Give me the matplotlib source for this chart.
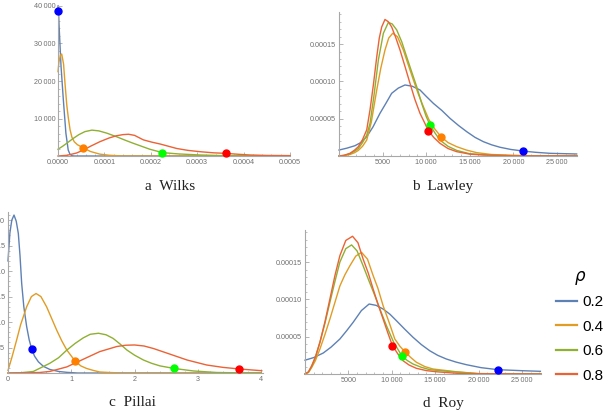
import matplotlib
matplotlib.use("Agg")
import matplotlib.pyplot as plt
from matplotlib.ticker import FixedLocator, MultipleLocator
from matplotlib.lines import Line2D

rho_labels = ["0.2", "0.4", "0.6", "0.8"]
line_colors = ["#5E81B5", "#E19C24", "#8FB032", "#EB6235"]
dot_colors = ["#0000FF", "#FF8000", "#00FF00", "#FF0000"]
panel_titles = ["a  Wilks", "b  Lawley", "c  Pillai", "d  Roy"]

# ---------------- a Wilks ----------------
wilks_x_02 = [0, 1e-6, 3e-6, 6.5e-6, 1.15e-5, 1.7e-5, 2.2e-5, 2.6e-5, 3.1e-5, 3.6e-5, 5e-4]
wilks_y_02 = [40000, 38700, 33000, 24000, 15000, 6100, 1600, 400, 50, 0, 0]
wilks_x_04 = [0, 2e-6, 5e-6, 8e-6, 1.2e-5, 1.5e-5, 1.9e-5, 2.2e-5, 2.6e-5, 3e-5, 3.5e-5, 4.2e-5,
              5.4e-5, 7e-5, 9e-5, 1.1e-4, 1.4e-4, 5e-4]
wilks_y_04 = [22500, 25000, 26800, 27200, 24500, 19500, 13500, 10400, 7000, 5000, 3800, 3000,
              2200, 1200, 500, 200, 0, 0]
wilks_x_06 = [0, 1e-5, 2e-5, 3.3e-5, 4.5e-5, 5.8e-5, 7.3e-5, 8.8e-5, 1.05e-4, 1.26e-4, 1.45e-4,
              1.62e-4, 1.8e-4, 1.98e-4, 2.25e-4, 2.6e-4, 3.06e-4, 3.5e-4, 4e-4, 5e-4]
wilks_y_06 = [1800, 2600, 3500, 4700, 5700, 6500, 6900, 6700, 6100, 5150, 4200,
              3400, 2600, 1800, 900, 550, 270, 120, 40, 0]
wilks_x_08 = [0, 2e-5, 4e-5, 5.5e-5, 7e-5, 9e-5, 1.1e-4, 1.26e-4, 1.4e-4, 1.52e-4, 1.65e-4,
              1.84e-4, 2.02e-4, 2.2e-4, 2.38e-4, 2.56e-4, 2.8e-4, 3.06e-4, 3.35e-4, 3.62e-4,
              3.9e-4, 4.14e-4, 4.5e-4, 5e-4]
wilks_y_08 = [0, 200, 800, 1600, 2600, 3800, 4800, 5400, 5700, 5800, 5500,
              4300, 3700, 3200, 2600, 2000, 1500, 1150, 850, 700,
              450, 270, 150, 100]
wilks_dot_x = [1e-6, 5.4e-5, 2.25e-4, 3.62e-4]
wilks_dot_y = [38700, 2200, 900, 700]
wilks_xticks = [0.0, 0.0001, 0.0002, 0.0003, 0.0004, 0.0005]
wilks_xticklabels = ["0.0000", "0.0001", "0.0002", "0.0003", "0.0004", "0.0005"]
wilks_yticks = [10000, 20000, 30000, 40000]
wilks_yticklabels = ["10\u2009000", "20\u2009000", "30\u2009000", "40\u2009000"]

# ---------------- b Lawley (y in units of 1e-5) ----------------
lawley_x_02 = [0, 900, 1830, 2500, 3180, 3900, 4700, 5400, 6040, 6800, 7570, 8400, 9290, 10000,
               10820, 11800, 12730, 13700, 14650, 15600, 16560, 17500, 18470, 19700, 21070,
               22500, 24200, 27260]
lawley_y_02 = [0.8, 1.05, 1.38, 1.8, 2.59, 3.9, 5.72, 7.1, 8.4, 9.1, 9.52, 9.35, 8.85, 8.0,
               7.06, 6.1, 5.05, 4.1, 3.26, 2.5, 1.92, 1.5, 1.17, 0.88, 0.67,
               0.5, 0.36, 0.27]
lawley_x_04 = [0, 600, 1260, 1800, 2220, 2700, 3180, 3700, 4330, 4800, 5275, 5700, 6160, 6700,
               7380, 7950, 8530, 9100, 9680, 10300, 11000, 11700, 12500, 13500, 14600, 15790,
               17500, 19230, 22000, 27300]
lawley_y_04 = [0, 0.05, 0.2, 0.45, 0.75, 1.3, 2.14, 4.5, 8.85, 11.8, 14.2, 15.8, 16.45, 16.0,
               14.2, 12.2, 10.2, 8.3, 6.61, 4.9, 3.6, 2.59, 1.8, 1.25, 0.8, 0.45,
               0.2, 0.13, 0.03, 0]
lawley_x_06 = [0, 600, 1260, 1800, 2220, 2700, 3180, 3560, 4000, 4520, 5090, 5660, 6100, 6620,
               7200, 7760, 8330, 8910, 9500, 10000, 10440, 11000, 11580, 12500, 13500, 15000,
               16560, 20000, 27300]
lawley_y_06 = [0, 0.08, 0.3, 0.65, 1.0, 1.8, 2.8, 4.38, 8.0, 12.9, 16.45, 17.9, 17.7, 16.9,
               15.3, 13.3, 11.3, 9.3, 7.0, 5.3, 4.15, 3.1, 2.14, 1.3, 0.75, 0.3,
               0.18, 0.03, 0]
lawley_x_08 = [0, 600, 1260, 1800, 2220, 2700, 3180, 3560, 3950, 4330, 4620, 4900, 5275, 5650,
               6040, 6500, 7000, 7570, 8140, 8700, 9290, 9800, 10250, 10900, 11580, 12500,
               13500, 15000, 16560, 20000, 27300]
lawley_y_08 = [0, 0.1, 0.36, 0.8, 1.25, 2.2, 3.5, 6.2, 9.6, 13.3, 15.8, 17.3, 18.3, 18.0,
               17.3, 15.9, 14.2, 12.0, 9.75, 7.6, 5.72, 4.5, 3.39, 2.45, 1.7, 1.0,
               0.58, 0.25, 0.13, 0.02, 0]
lawley_dot_x = [21070, 11700, 10440, 10250]
lawley_dot_y = [0.67, 2.59, 4.15, 3.39]
lawley_xticks = [5000, 10000, 15000, 20000, 25000]
lawley_xticklabels = ["5000", "10\u2009000", "15\u2009000", "20\u2009000", "25\u2009000"]
lawley_yticks = [5, 10, 15]
lawley_yticklabels = ["0.00005", "0.00010", "0.00015"]

# ---------------- c Pillai ----------------
pillai_x_02 = [0, 0.03, 0.06, 0.095, 0.13, 0.163, 0.19, 0.216, 0.25, 0.295, 0.335, 0.374, 0.42,
               0.48, 0.56, 0.66, 0.8, 0.93, 1.1, 4.0]
pillai_y_02 = [2.2, 2.75, 3.0, 3.1, 2.98, 2.74, 2.3, 1.76, 1.3, 0.91, 0.65, 0.47, 0.33,
               0.22, 0.13, 0.07, 0.03, 0.013, 0, 0]
pillai_x_04 = [0, 0.06, 0.137, 0.2, 0.295, 0.37, 0.443, 0.52, 0.61, 0.69, 0.77, 0.85, 0.93,
               1.06, 1.15, 1.24, 1.35, 1.45, 1.6, 1.8, 4.0]
pillai_y_04 = [0.05, 0.3, 0.65, 0.95, 1.3, 1.5, 1.56, 1.5, 1.3, 1.07, 0.84, 0.63, 0.45,
               0.235, 0.14, 0.09, 0.05, 0.02, 0.01, 0, 0]
pillai_x_06 = [0, 0.2, 0.4, 0.66, 0.8, 0.93, 1.06, 1.19, 1.3, 1.43, 1.55, 1.66, 1.77, 1.88, 2.0,
               2.14, 2.27, 2.4, 2.62, 2.93, 3.3, 3.7, 4.0]
pillai_y_06 = [0, 0.005, 0.03, 0.19, 0.3, 0.45, 0.58, 0.69, 0.76, 0.78, 0.75, 0.68, 0.57, 0.45,
               0.35, 0.255, 0.19, 0.14, 0.09, 0.04, 0.01, 0.003, 0.0]
pillai_x_08 = [0, 0.3, 0.5, 0.66, 0.93, 1.19, 1.45, 1.72, 1.86, 2.0, 2.15, 2.3, 2.56, 2.83, 3.14,
               3.4, 3.65, 3.85, 4.01]
pillai_y_08 = [0, 0.003, 0.01, 0.03, 0.12, 0.27, 0.42, 0.52, 0.545, 0.55, 0.53, 0.48, 0.37,
               0.255, 0.157, 0.11, 0.08, 0.06, 0.045]
pillai_dot_x = [0.374, 1.06, 2.62, 3.65]
pillai_dot_y = [0.47, 0.235, 0.09, 0.08]
pillai_xticks = [0, 1, 2, 3, 4]
pillai_xticklabels = ["0", "1", "2", "3", "4"]
pillai_yticks = [0.5, 1.0, 1.5, 2.0, 2.5, 3.0]
pillai_yticklabels = ["0.5", "1.0", "1.5", "2.0", "2.5", "3.0"]

# ---------------- d Roy (y in units of 1e-5) ----------------
roy_x_02 = [0, 1000, 2100, 3000, 4020, 4800, 5550, 6500, 7390, 8200, 9000, 9800, 10540, 11500,
            12450, 13400, 14370, 15300, 16290, 17400, 18590, 20300, 22220, 25100, 27130]
roy_y_02 = [1.85, 2.2, 2.81, 3.6, 4.69, 5.8, 6.93, 8.5, 9.38, 9.2, 8.71, 8.0, 7.14, 6.0,
            4.92, 3.95, 3.12, 2.5, 2.01, 1.6, 1.25, 0.85, 0.58, 0.44, 0.36]
roy_x_04 = [0, 400, 770, 1200, 1720, 2300, 2870, 3450, 4020, 4600, 5170, 5850, 6520, 7200, 7850,
            8400, 9000, 9700, 10350, 10950, 11570, 12200, 12840, 13800, 14750, 17440, 20000, 27200]
roy_y_04 = [0, 0.2, 0.87, 1.8, 3.35, 5.3, 7.37, 9.6, 11.8, 13.3, 14.5, 15.8, 16.3, 15.4, 13.2,
            11.5, 9.16, 6.9, 4.69, 3.7, 2.91, 2.2, 1.57, 1.0, 0.67, 0.3, 0.05, 0]
roy_x_06 = [0, 400, 770, 1200, 1720, 2300, 2870, 3450, 4020, 4700, 5370, 6000, 6700, 7400, 8050,
            8700, 9390, 10200, 11150, 11800, 12450, 13400, 14370, 17050, 20000, 27200]
roy_y_06 = [0, 0.25, 1.0, 2.2, 4.25, 6.8, 9.61, 12.4, 15.0, 16.8, 17.3, 16.5, 14.5, 12.4, 10.5,
            8.5, 6.47, 4.3, 2.45, 1.8, 1.34, 0.9, 0.58, 0.3, 0.05, 0]
roy_x_08 = [0, 400, 770, 1200, 1720, 2300, 2870, 3450, 4020, 4700, 5480, 6100, 6700, 7300, 7850,
            8400, 9000, 9550, 10080, 10700, 11300, 12000, 12840, 14000, 15140, 18000, 27200]
roy_y_08 = [0, 0.3, 1.11, 2.3, 4.25, 7.0, 10.05, 13.2, 15.86, 17.9, 18.46, 17.6, 15.4, 13.5,
            11.4, 9.4, 7.37, 5.5, 3.79, 2.7, 1.78, 1.2, 0.76, 0.45, 0.3, 0.05, 0]
roy_dot_x = [22220, 11570, 11150, 10080]
roy_dot_y = [0.58, 2.91, 2.45, 3.79]
roy_xticks = lawley_xticks
roy_xticklabels = lawley_xticklabels
roy_yticks = lawley_yticks
roy_yticklabels = lawley_yticklabels

W, H = 608, 413
fig = plt.figure(figsize=(W / 100, H / 100), dpi=100)

def add_ax(left, right, bottom, top):
    return fig.add_axes([left / W, 1 - bottom / H, (right - left) / W, (bottom - top) / H])

axis_gray = "#A8A8A8"
label_gray = "#707070"

def style(ax, xlim, ylim, xt, xtl, yt, ytl, xminor, yminor):
    ax.set_xlim(*xlim)
    ax.set_ylim(*ylim)
    for s in ["top", "right"]:
        ax.spines[s].set_visible(False)
    for s in ["left", "bottom"]:
        ax.spines[s].set_color(axis_gray)
        ax.spines[s].set_linewidth(0.8)
    ax.xaxis.set_major_locator(FixedLocator(xt))
    ax.set_xticklabels(xtl)
    ax.yaxis.set_major_locator(FixedLocator(yt))
    ax.set_yticklabels(ytl)
    ax.xaxis.set_minor_locator(MultipleLocator(xminor))
    ax.yaxis.set_minor_locator(MultipleLocator(yminor))
    ax.tick_params(which="major", direction="in", length=3.2, width=0.6, color=axis_gray,
                   labelsize=5.2, labelcolor=label_gray, pad=2)
    ax.tick_params(which="minor", direction="in", length=1.6, width=0.5, color=axis_gray)
    for lab in ax.get_xticklabels() + ax.get_yticklabels():
        lab.set_fontfamily("Liberation Sans")
    ax.patch.set_alpha(0)

def draw(ax, xs, ys, dx, dy):
    for x, y, c in zip(xs, ys, line_colors):
        ax.plot(x, y, color=c, lw=1.0, solid_joinstyle="round", clip_on=False)
    for x, y, c in zip(dx, dy, dot_colors):
        ax.plot([x], [y], "o", color=c, ms=5, zorder=5, clip_on=False)

# a Wilks
ax1 = add_ax(58, 290, 156, 4.5)
draw(ax1, [wilks_x_02, wilks_x_04, wilks_x_06, wilks_x_08],
     [wilks_y_02, wilks_y_04, wilks_y_06, wilks_y_08], wilks_dot_x, wilks_dot_y)
style(ax1, (0, 0.0005), (0, 40400), wilks_xticks, wilks_xticklabels,
      wilks_yticks, wilks_yticklabels, 0.00002, 2000)

# b Lawley
ax2 = add_ax(339, 577, 156, 12)
draw(ax2, [lawley_x_02, lawley_x_04, lawley_x_06, lawley_x_08],
     [lawley_y_02, lawley_y_04, lawley_y_06, lawley_y_08], lawley_dot_x, lawley_dot_y)
style(ax2, (0, 27300), (0, 19.3), lawley_xticks, lawley_xticklabels,
      lawley_yticks, lawley_yticklabels, 1000, 1)

# c Pillai
ax3 = add_ax(8, 263, 373, 212)
draw(ax3, [pillai_x_02, pillai_x_04, pillai_x_06, pillai_x_08],
     [pillai_y_02, pillai_y_04, pillai_y_06, pillai_y_08], pillai_dot_x, pillai_dot_y)
style(ax3, (0, 4.03), (0, 3.16), pillai_xticks, pillai_xticklabels,
      pillai_yticks, pillai_yticklabels, 0.2, 0.1)

# d Roy
ax4 = add_ax(305, 541, 374, 230)
draw(ax4, [roy_x_02, roy_x_04, roy_x_06, roy_x_08],
     [roy_y_02, roy_y_04, roy_y_06, roy_y_08], roy_dot_x, roy_dot_y)
style(ax4, (0, 27200), (0, 19.3), roy_xticks, roy_xticklabels,
      roy_yticks, roy_yticklabels, 1000, 1)

# panel captions
title_pos = [(170, 186), (443, 186), (132, 403), (443, 403)]
for (tx, ty), t in zip(title_pos, panel_titles):
    fig.text(tx / W, 1 - ty / H, t, ha="center", va="center", fontsize=11,
             fontfamily="Liberation Serif", color="#222222")

handles = [Line2D([], [], color=c, lw=1.6) for c in line_colors]
leg = fig.legend(handles, rho_labels, title="\u03c1", loc="upper left",
                 bbox_to_anchor=(556 / W, 1 - 267 / H), frameon=False, borderpad=0,
                 borderaxespad=0,
                 prop={"family": "Liberation Sans", "size": 11},
                 title_fontproperties={"family": "DejaVu Sans", "style": "italic", "size": 12},
                 handlelength=1.4, handletextpad=0.35, labelspacing=0.68)

fig.savefig("out.png", dpi=100)
